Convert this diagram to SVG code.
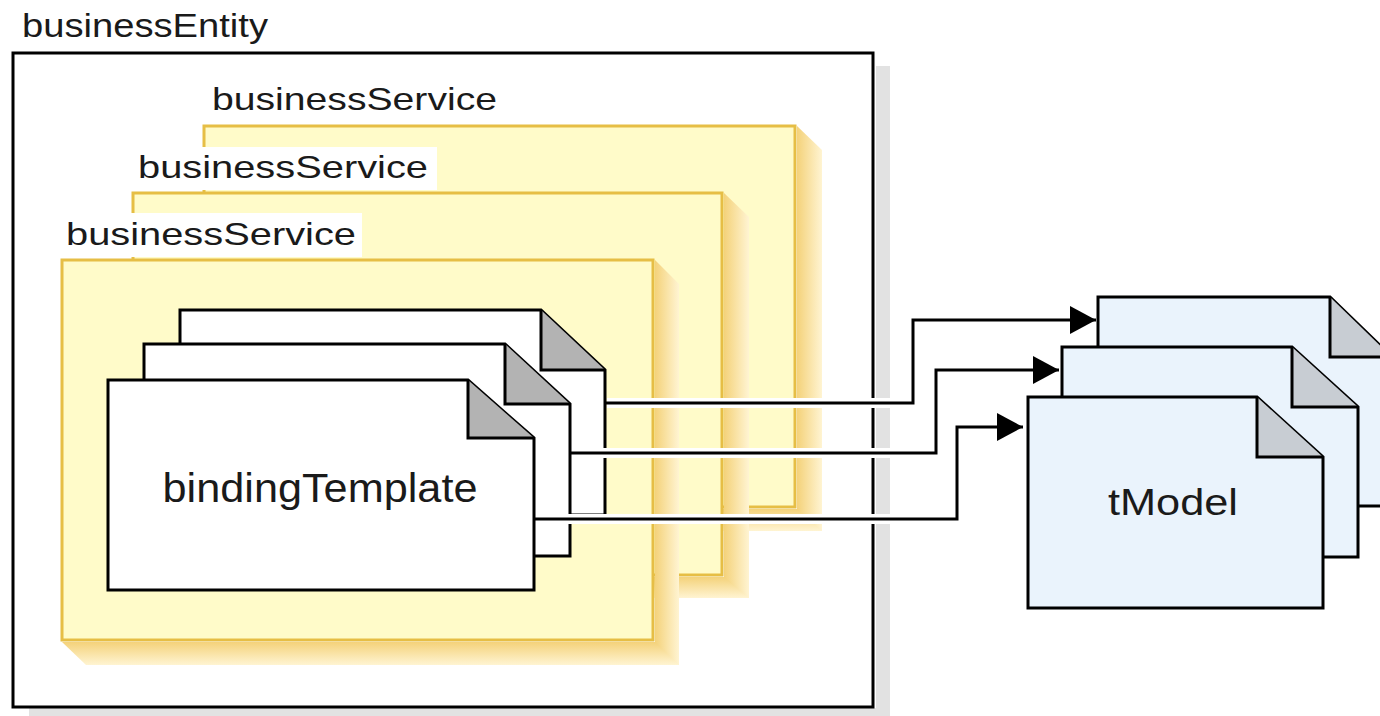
<svg xmlns="http://www.w3.org/2000/svg" width="1380" height="716" viewBox="0 0 1380 716">
  <defs>
    <linearGradient id="shR" x1="0" y1="0" x2="1" y2="0">
      <stop offset="0" stop-color="#F4D27A"/>
      <stop offset="1" stop-color="#FFF4D2"/>
    </linearGradient>
    <linearGradient id="shB" x1="0" y1="0" x2="0" y2="1">
      <stop offset="0" stop-color="#F4D27A"/>
      <stop offset="1" stop-color="#FFF4D2"/>
    </linearGradient>
    <marker id="arrow" markerUnits="userSpaceOnUse" markerWidth="26" markerHeight="28" viewBox="0 0 26 28" refX="26" refY="14" orient="auto">
      <path d="M0,0 L26,14 L0,28 Z" fill="#000"/>
    </marker>
    <style>
      .lbl { font-family: "Liberation Sans", Arial, sans-serif; fill: #1a1a1a; }
      .svc { fill: #FFFBC9; stroke: #E6BE45; stroke-width: 3; }
      .doc { fill: #FFFFFF; stroke: #000; stroke-width: 3; stroke-linejoin: miter; }
      .tdoc { fill: #EAF3FC; stroke: #000; stroke-width: 3; }
      .fold { fill: #B3B3B3; stroke: none; }
      .tfold { fill: #C8CDD3; stroke: none; }
      .foldline { fill: none; stroke: #000; stroke-width: 3; }
      .halo { fill: none; stroke: #FFFFFF; stroke-width: 10; }
      .conn { fill: none; stroke: #000; stroke-width: 3; marker-end: url(#arrow); }
    </style>
  </defs>
  <rect width="1380" height="716" fill="#FFFFFF"/>

  <g id="businessEntity">
    <rect x="876" y="66" width="14" height="650" fill="#E2E2E2"/>
    <rect x="29" y="708" width="861" height="8" fill="#E2E2E2"/>
    <rect x="13" y="53" width="860" height="654" fill="#FFFFFF" stroke="#000" stroke-width="3"/>
    <text class="lbl" x="22" y="37" font-size="34" textLength="246" lengthAdjust="spacingAndGlyphs">businessEntity</text>
  </g>

  <g id="businessService3">
    <polygon points="797,126 822,150 822,531 797,531" fill="url(#shR)"/>
    <polygon points="204,509 228,531 822,531 797,509" fill="url(#shB)"/>
    <rect class="svc" x="204" y="126" width="591" height="381"/>
    <text class="lbl" x="212" y="110" font-size="32" textLength="285" lengthAdjust="spacingAndGlyphs">businessService</text>
  </g>

  <g id="businessService2">
    <polygon points="724,193 749,217 749,598 724,598" fill="url(#shR)"/>
    <polygon points="133,577 157,598 749,598 724,577" fill="url(#shB)"/>
    <rect class="svc" x="133" y="193" width="589" height="382"/>
    <rect x="133" y="147" width="304" height="43" fill="#FFFFFF"/>
    <text class="lbl" x="138" y="178" font-size="32" textLength="290" lengthAdjust="spacingAndGlyphs">businessService</text>
  </g>

  <g id="businessService1">
    <polygon points="655,260 679,284 679,665 655,665" fill="url(#shR)"/>
    <polygon points="62,642 86,665 679,665 655,642" fill="url(#shB)"/>
    <rect class="svc" x="62" y="260" width="591" height="380"/>
    <rect x="62" y="213" width="300" height="44" fill="#FFFFFF"/>
    <text class="lbl" x="66" y="245" font-size="32" textLength="290" lengthAdjust="spacingAndGlyphs">businessService</text>
  </g>

  <g id="bindingTemplate3">
    <path class="doc" d="M180,310 H541 L605,370 V515 H180 Z"/>
    <path class="fold" d="M541,310 L605,370 H541 Z"/>
    <path class="foldline" d="M541,310 V370 H605"/>
  </g>
  <g id="bindingTemplate2">
    <path class="doc" d="M144,344 H505 L570,404 V556 H144 Z"/>
    <path class="fold" d="M505,344 L570,404 H505 Z"/>
    <path class="foldline" d="M505,344 V404 H570"/>
  </g>
  <g id="bindingTemplate1">
    <path class="doc" d="M108,380 H468 L534,438 V590 H108 Z"/>
    <path class="fold" d="M468,380 L534,438 H468 Z"/>
    <path class="foldline" d="M468,380 V438 H534"/>
    <text class="lbl" x="320" y="502" font-size="40" text-anchor="middle" textLength="315" lengthAdjust="spacingAndGlyphs">bindingTemplate</text>
  </g>

  <g id="connectors">
    <path class="halo" d="M607,403 H913 V320 H1070"/>
    <path class="halo" d="M572,453 H936 V370 H1033"/>
    <path class="halo" d="M536,519 H957 V427 H997"/>
    <path class="conn" d="M605,403 H913 V320 H1096"/>
    <path class="conn" d="M570,453 H936 V370 H1059"/>
    <path class="conn" d="M534,519 H957 V427 H1023"/>
  </g>

  <g id="tModel3">
    <path class="tdoc" d="M1098,297 H1330 L1392,357 V506 H1098 Z"/>
    <path class="tfold" d="M1330,297 L1392,357 H1330 Z"/>
    <path class="foldline" d="M1330,297 V357 H1392"/>
  </g>
  <g id="tModel2">
    <path class="tdoc" d="M1062,347 H1292 L1358,407 V557 H1062 Z"/>
    <path class="tfold" d="M1292,347 L1358,407 H1292 Z"/>
    <path class="foldline" d="M1292,347 V407 H1358"/>
  </g>
  <g id="tModel1">
    <path class="tdoc" d="M1028,397 H1257 L1323,457 V608 H1028 Z"/>
    <path class="tfold" d="M1257,397 L1323,457 H1257 Z"/>
    <path class="foldline" d="M1257,397 V457 H1323"/>
    <text class="lbl" x="1173" y="515" font-size="36" text-anchor="middle" textLength="130" lengthAdjust="spacingAndGlyphs">tModel</text>
  </g>
</svg>
